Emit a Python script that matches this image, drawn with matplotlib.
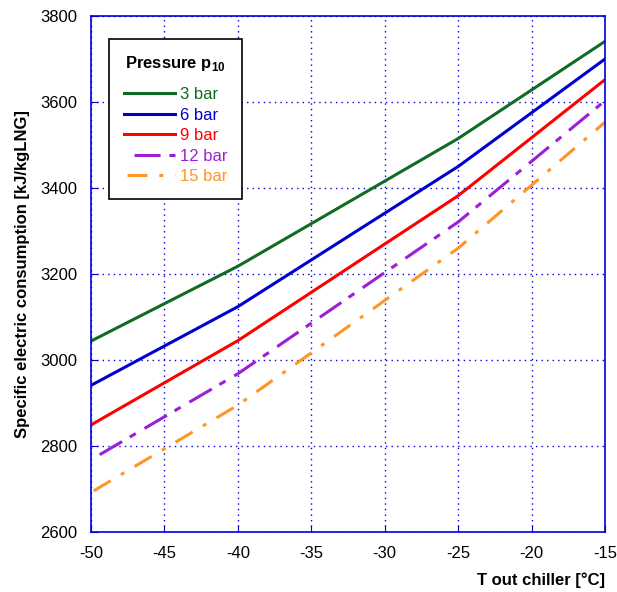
import matplotlib
matplotlib.use("Agg")
import matplotlib.pyplot as plt

plt.rcParams['font.family'] = ['Liberation Sans', 'DejaVu Sans']
plt.rcParams['mathtext.fontset'] = 'custom'
plt.rcParams['mathtext.bf'] = 'Liberation Sans:bold'
plt.rcParams['mathtext.rm'] = 'Liberation Sans'
plt.rcParams['axes.unicode_minus'] = False

t_out = [-50, -40, -25, -15]
p3 = [3044, 3218, 3515, 3741]
p6 = [2941, 3124, 3450, 3700]
p9 = [2849, 3045, 3382, 3652]
p12 = [2768, 2968, 3321, 3603]
p15 = [2692, 2895, 3260, 3553]

labels = ["3 bar", "6 bar", "9 bar", "12 bar", "15 bar"]
colors = ["#116b22", "#0000d0", "#ff0000", "#9b1fd6", "#ff9526"]
series = [p3, p6, p9, p12, p15]
styles = ["-", "-", "-", (13.7, (8.5, 2.9, 2.3, 3.3)), (14.6, (6.5, 3.9, 1.3, 3.9))]

fig = plt.figure(figsize=(6.17, 5.92), dpi=100)
ax = fig.add_axes([91/617, 1-532/592, 514/617, 516/592])

for vals, lab, c, ls in zip(series, labels, colors, styles):
    ax.plot(t_out, vals, color=c, lw=2.2, linestyle=ls, label=lab)

ax.set_xlim(-50, -15)
ax.set_ylim(2600, 3800)
ax.set_xticks(range(-50, -14, 5))
ax.set_yticks(range(2600, 3801, 200))
ax.grid(True, color="#0000dd", linestyle=(0, (1, 3)), linewidth=1)
ax.tick_params(direction="in", color="#0000dd", length=5, labelsize=12, pad=10)
for s in ax.spines.values():
    s.set_color("#0000dd")
    s.set_linewidth(1.2)

ax.set_ylabel("Specific electric consumption [kJ/kgLNG]", fontsize=12, fontweight="bold", labelpad=7)
ax.set_xlabel("T out chiller [°C]", fontsize=12, fontweight="bold", loc="right", labelpad=8)

leg = ax.legend(loc="upper left", bbox_to_anchor=(0.035, 0.955), title="Pressure p$_{\\mathbf{10}}$",
                title_fontproperties={"weight": "bold", "size": 12}, fontsize=12,
                labelcolor="linecolor", fancybox=False, edgecolor="black", framealpha=1,
                handlelength=3.05, handletextpad=0.3, labelspacing=0.33, borderpad=0.9,
                borderaxespad=0)
leg.get_frame().set_linewidth(1.2)
leg._legend_box.sep = 10

fig.savefig("out.png", dpi=100)
